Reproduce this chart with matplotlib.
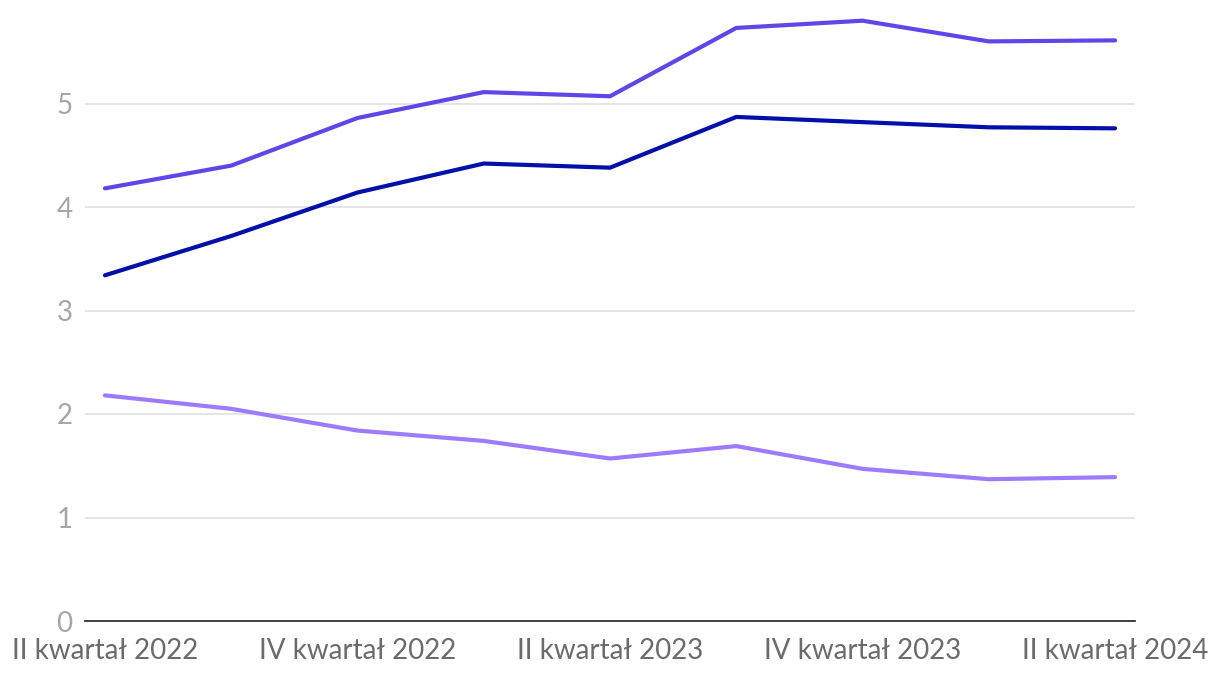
import matplotlib
matplotlib.use("Agg")
import matplotlib.pyplot as plt

quarters = ["II kwartał 2022", "III kwartał 2022", "IV kwartał 2022", "I kwartał 2023",
            "II kwartał 2023", "III kwartał 2023", "IV kwartał 2023", "I kwartał 2024",
            "II kwartał 2024"]
series_top = [4.18, 4.40, 4.86, 5.11, 5.07, 5.73, 5.80, 5.60, 5.61]
series_mid = [3.34, 3.72, 4.14, 4.42, 4.38, 4.87, 4.82, 4.77, 4.76]
series_low = [2.18, 2.05, 1.84, 1.74, 1.57, 1.69, 1.47, 1.37, 1.39]
colors = ["#6046e8", "#0010a8", "#9d7bff"]
yticks = [0, 1, 2, 3, 4, 5]

plt.rcParams['font.family'] = ['Lato', 'DejaVu Sans']

fig = plt.figure(figsize=(12.2, 6.78), dpi=100)
ax = fig.add_axes([85/1220, (678-621)/678, (1135-85)/1220, 621/678])

x = list(range(len(quarters)))
for s, c in zip([series_top, series_mid, series_low], colors):
    ax.plot(x, s, color=c, lw=3, solid_capstyle='round', solid_joinstyle='round', zorder=3)

ax.set_ylim(0, 6)
ax.set_xlim(-0.158, 8.158)
ax.set_yticks(yticks)
ax.set_yticklabels([str(v) for v in yticks])
ax.set_xticks(x[::2])
ax.set_xticklabels(quarters[::2])
ax.grid(axis='y', color='#e3e3e3', lw=1.3, zorder=0)
ax.grid(axis='x', visible=False)
for sp in ['top', 'right', 'left']:
    ax.spines[sp].set_visible(False)
ax.spines['bottom'].set_color('#333333')
ax.spines['bottom'].set_linewidth(1.3)
ax.tick_params(axis='y', length=0, pad=9, labelsize=20, labelcolor='#a6a6a6')
ax.tick_params(axis='x', length=0, pad=12, labelsize=20, labelcolor='#6b6b6b')

fig.savefig("out.png", dpi=100)
